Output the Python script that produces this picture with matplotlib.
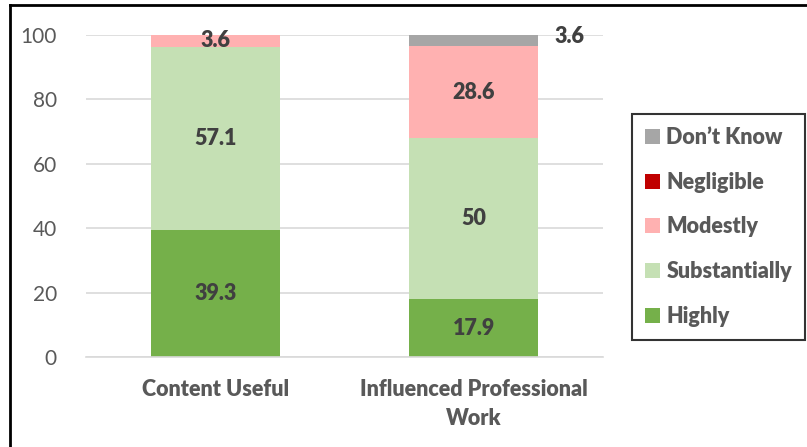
import numpy as np
import matplotlib.pyplot as plt
from matplotlib.lines import Line2D

plt.rcParams['font.family'] = ['Lato', 'DejaVu Sans']

# Data
categories = ["Content Useful", "Influenced Professional\nWork"]
series = ["Highly", "Substantially", "Modestly", "Negligible", "Don\u2019t Know"]
highly = [39.3, 17.9]
substantially = [57.1, 50]
modestly = [3.6, 28.6]
negligible = [0, 0]
dont_know = [0, 3.6]
values = [highly, substantially, modestly, negligible, dont_know]
colors = ["#75B04A", "#C5E0B4", "#FFB1B1", "#C00000", "#A6A6A6"]

fig = plt.figure(figsize=(8.07, 4.47), dpi=100)
ax = fig.add_axes([0.1066, 0.2013, 0.6406, 0.7204])

x = np.arange(len(categories))
bottom = np.zeros(len(categories))
handles = []
for name, vals, col in zip(series, values, colors):
    vals = np.array(vals, dtype=float)
    bars = ax.bar(x, vals, 0.5, bottom=bottom, color=col, label=name, zorder=2)
    handles.append(bars)
    for i, v in enumerate(vals):
        if v <= 0:
            continue
        if name == "Don\u2019t Know":
            # small segment: label sits to the right of the bar
            ax.text(x[i] + 0.37, bottom[i] + v - 0.6, f"{v:g}", ha='center', va='center',
                    fontsize=15.5, fontweight='heavy', color='#404040', zorder=3)
        else:
            ax.text(x[i], bottom[i] + v / 2, f"{v:g}", ha='center', va='center',
                    fontsize=15.5, fontweight='heavy', color='#404040', zorder=3)
    bottom += vals

ax.set_xlim(-0.5, 1.5)
ax.set_ylim(0, 100)
ax.set_yticks(range(0, 101, 20))
ax.set_xticks(x)
ax.set_xticklabels(categories, fontsize=15.5, fontweight='heavy', color='#595959',
                   linespacing=1.45)
ax.tick_params(axis='y', labelsize=15, labelcolor='#595959', length=0, pad=21)
ax.tick_params(axis='x', length=0, pad=16)
ax.grid(axis='y', color='#D9D9D9', linewidth=1.2, zorder=0)
for s in ['top', 'right', 'left']:
    ax.spines[s].set_visible(False)
ax.spines['bottom'].set_color('#D9D9D9')
ax.spines['bottom'].set_linewidth(1.2)

leg = fig.legend(handles[::-1], series[::-1], loc='upper left',
                 bbox_to_anchor=(632 / 807, 1 - 114 / 447),
                 frameon=True, fancybox=False, edgecolor='black',
                 handlelength=0.7, handleheight=0.7, handletextpad=0.3,
                 labelspacing=1.1, borderpad=0.6, borderaxespad=0,
                 prop={'size': 15.5, 'weight': 'heavy'})
leg.get_frame().set_linewidth(1.5)
for t in leg.get_texts():
    t.set_color('#595959')

# outer frame (left and top edges)
fig.add_artist(Line2D([10 / 807, 10 / 807], [0, 1 - 5 / 447], transform=fig.transFigure,
                      color='black', linewidth=2))
fig.add_artist(Line2D([10 / 807, 806 / 807], [1 - 5 / 447, 1 - 5 / 447],
                      transform=fig.transFigure, color='black', linewidth=2))

fig.savefig("out.png", dpi=100)
